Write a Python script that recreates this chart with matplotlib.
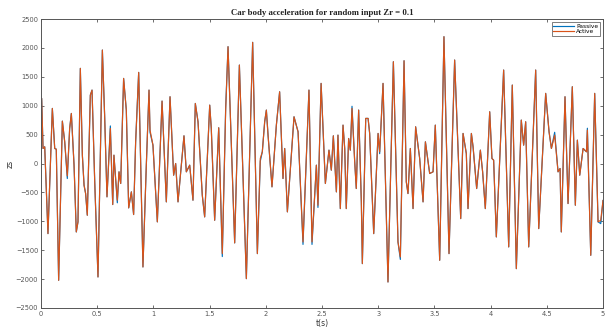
import matplotlib
matplotlib.use("Agg")
import matplotlib.pyplot as plt

# time (s) and active acceleration values
t = [0.000, 0.006, 0.018, 0.033, 0.062, 0.101, 0.122, 0.136, 0.157, 0.190,
     0.211, 0.234, 0.255, 0.270, 0.294, 0.314, 0.329, 0.350, 0.368, 0.383,
     0.397, 0.412, 0.439, 0.454, 0.478, 0.507, 0.546, 0.566, 0.587, 0.617,
     0.638, 0.649, 0.664, 0.679, 0.694, 0.709, 0.735, 0.759, 0.780, 0.804,
     0.824, 0.842, 0.869, 0.907, 0.937, 0.961, 0.970, 0.996, 1.035, 1.077,
     1.115, 1.148, 1.180, 1.198, 1.219, 1.272, 1.293, 1.323, 1.352, 1.373,
     1.397, 1.435, 1.456, 1.501, 1.515, 1.545, 1.581, 1.613, 1.643, 1.664,
     1.723, 1.765, 1.827, 1.883, 1.925, 1.951, 1.969, 1.990, 2.005, 2.020,
     2.055, 2.094, 2.123, 2.153, 2.168, 2.192, 2.251, 2.287, 2.331, 2.384,
     2.411, 2.450, 2.464, 2.492, 2.530, 2.562, 2.583, 2.601, 2.628, 2.642,
     2.663, 2.687, 2.702, 2.716, 2.737, 2.752, 2.767, 2.791, 2.805, 2.826,
     2.850, 2.859, 2.889, 2.910, 2.924, 2.960, 2.999, 3.013, 3.043, 3.087,
     3.135, 3.176, 3.197, 3.230, 3.250, 3.265, 3.286, 3.310, 3.333, 3.369,
     3.399, 3.420, 3.458, 3.488, 3.508, 3.547, 3.585, 3.630, 3.680, 3.734,
     3.755, 3.784, 3.799, 3.829, 3.844, 3.876, 3.909, 3.929, 3.953, 3.992,
     4.012, 4.027, 4.051, 4.116, 4.161, 4.193, 4.229, 4.273, 4.294, 4.312,
     4.339, 4.401, 4.428, 4.490, 4.520, 4.541, 4.570, 4.600, 4.618, 4.629,
     4.662, 4.689, 4.727, 4.754, 4.772, 4.793, 4.823, 4.853, 4.861, 4.891,
     4.926, 4.956, 4.980, 5.000]

active = [150, 1126, 260, 289, -1213, 953, 260, 248, -2021, 733,
          375, -214, 606, 866, -29, -1184, -1010, 1646, 144, -375,
          -520, -895, 1184, 1270, -318, -1963, 1963, 837, -577, 606,
          -710, 144, -260, -635, -144, -346, 1472, 924, -768, -491,
          -883, 375, 1576, -1790, -29, 1270, 577, 318, -1010, 1080,
          -664, 1155, -202, 0, -664, 479, -144, -29, -635, 1039,
          722, -549, -924, 1010, 606, -982, 618, -1559, 924, 2021,
          -1374, 1703, -1992, 2096, -1559, 87, 202, 722, 924, 491,
          -404, 664, 1241, -260, 260, -837, 808, 549, -1357, 1270,
          -1357, -29, -722, 1386, -346, 231, -115, 479, -491, 491,
          -780, 664, 260, -780, 433, 231, 953, 29, -433, 924,
          -664, -1732, 780, 780, 520, -1213, 520, 202, 1386, -2050,
          1761, -1357, -1617, 1778, -318, -520, 260, -780, 635, 87,
          -664, 375, -173, -144, 664, -1674, 2194, -1559, 1790, -953,
          520, 173, -780, 520, 289, -433, 231, -144, -780, 895,
          87, 58, -1270, 1617, -1443, 1357, -1819, 751, 318, 722,
          -1443, 1617, -1126, 1213, 549, 260, 491, -144, -87, -1184,
          1155, -693, 1328, -722, 404, -202, 260, 202, 577, -1588,
          1213, -1010, -982, -640]

# passive follows active except at a few tips where it shows (index: value)
passive_diff = {11: -260, 29: 650, 33: -680, 46: 540, 67: -1610,
                68: 970, 75: 40, 88: -1400, 90: -1400, 92: -760,
                106: 990, 117: 170, 122: -1660, 166: 540, 178: 610,
                182: -1040}
passive = [passive_diff.get(i, v) for i, v in enumerate(active)]

labels = ["Passive", "Active"]
title = "Car body acceleration for random input Zr = 0.1"
xticks = [0, 0.5, 1, 1.5, 2, 2.5, 3, 3.5, 4, 4.5, 5]
yticks = list(range(-2500, 2501, 500))

fig = plt.figure(figsize=(6.08, 3.33), dpi=100)
ax = fig.add_axes([41 / 608, 1 - 308 / 333, 562 / 608, 289 / 333])

ax.plot(t, passive, color="#0072BD", lw=0.85, label=labels[0])
ax.plot(t, active, color="#D95319", lw=0.85, label=labels[1])

ax.set_xlim(0, 5)
ax.set_ylim(-2500, 2500)
ax.set_xticks(xticks)
ax.set_xticklabels([f"{x:g}" for x in xticks])
ax.set_yticks(yticks)
grey = "#555555"
ax.tick_params(direction="in", length=2.5, width=0.6, colors=grey,
               labelsize=4.8, top=True, right=True, pad=2)
for s in ax.spines.values():
    s.set_color(grey)
    s.set_linewidth(0.7)

ax.set_title(title, fontsize=6.3, fontweight="bold",
             family="Liberation Serif", pad=3, color="#222222")
ax.set_xlabel("t(s)", fontsize=5.5, color="#333333", labelpad=1.5)
ax.set_ylabel("zs", fontsize=5.5, color="#333333", labelpad=1)

leg = ax.legend(loc="upper right", fontsize=4.2, frameon=True, fancybox=False,
                edgecolor="#444444", handlelength=3.5, borderpad=0.3,
                labelspacing=0.1, handletextpad=0.4, borderaxespad=0.5)
leg.get_frame().set_linewidth(0.6)

fig.savefig("out.png", dpi=100)
